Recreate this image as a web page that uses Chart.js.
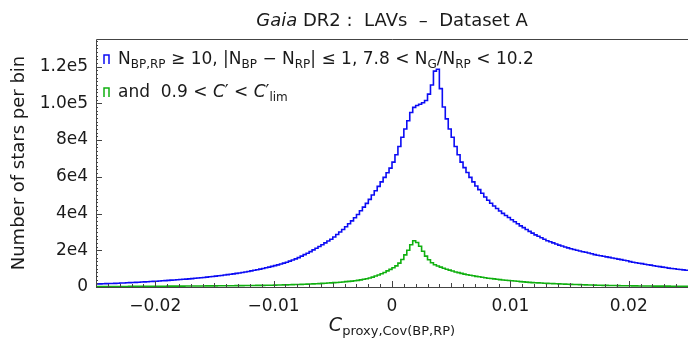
<!DOCTYPE html>
<html>
<head>
<meta charset="utf-8">
<script src="https://cdn.jsdelivr.net/npm/chart.js@4.4.1/dist/chart.umd.min.js"></script>
<style>
  html, body { margin: 0; padding: 0; background: #fff; }
  #wrap { width: 688px; height: 345px; }
</style>
</head>
<body>
<div id="wrap"><canvas id="c" width="688" height="345"></canvas></div>
<script>
// ---- data ----
const binStart = -0.025;
const binWidth = 0.00025;

const blueCounts = [
  1630,1690,1750,1810,1880,1940,2000,2070,2140,2210,2290,2360,2440,2530,2620,2710,2790,2880,2970,3060,
  3160,3270,3380,3490,3610,3720,3830,3940,4060,4190,4310,4440,4580,4730,4880,5030,5190,5360,5540,5710,
  5900,6100,6300,6500,6710,6930,7160,7390,7640,7910,8190,8460,8760,9090,9410,9740,10090,10460,10840,11210,
  11620,12070,12520,12970,13500,14100,14700,15300,16000,16800,17600,18400,19260,20190,21110,22040,23000,24000,25000,26000,
  27200,28600,29900,31300,32800,34400,36000,37700,39500,41500,43500,45500,47700,50100,52400,54800,57200,59700,62200,64700,
  68000,72000,76500,81500,86000,90500,95000,97800,98800,99500,100300,101500,105000,110000,117500,118500,108000,98000,91500,86000,
  81500,76500,72000,68000,65000,62300,59700,57200,55000,53000,51000,49000,47200,45600,44100,42700,41400,40100,38900,37800,
  36600,35500,34400,33300,32300,31300,30300,29300,28400,27600,26800,26000,25200,24600,24000,23400,22800,22300,21800,21300,
  20800,20400,20000,19600,19200,18900,18500,18100,17600,17300,17000,16700,16400,16100,15800,15500,15200,14900,14600,14300,
  13800,13500,13200,12900,12700,12400,12100,11900,11600,11300,11100,10800,10600,10300,10100,9900,9700,9500,9300,9100
];

const greenCounts = [
  250,255,260,265,270,275,280,285,290,300,310,315,320,330,340,350,360,370,380,390,
  410,420,430,440,450,460,470,480,490,500,510,520,530,545,555,565,580,590,600,615,
  630,645,660,675,690,705,720,740,760,775,795,810,830,850,870,890,910,935,960,985,
  1020,1060,1100,1140,1180,1230,1280,1330,1390,1450,1510,1570,1640,1710,1790,1860,1950,2050,2150,2250,
  2360,2480,2610,2750,2900,3050,3220,3400,3620,3900,4200,4500,4900,5400,5950,6500,7200,7900,8800,9600,
  10500,11500,13000,15000,17500,20000,23000,25200,24200,22200,19500,16800,14800,13200,12100,11400,10800,10200,9700,9200,
  8700,8200,7800,7400,7000,6700,6400,6100,5800,5550,5300,5050,4800,4600,4400,4200,4000,3850,3700,3550,
  3400,3250,3100,2950,2800,2650,2520,2400,2300,2220,2140,2060,1980,1900,1830,1760,1690,1630,1570,1510,
  1450,1390,1330,1270,1220,1170,1120,1070,1020,980,940,900,870,840,810,780,750,720,690,660,
  640,620,600,580,560,545,530,515,500,490,480,470,460,450,440,435,425,420,415,410
];

const xTickValues = [-0.02, -0.01, 0, 0.01, 0.02];
const xTickLabels = ['\u22120.02', '\u22120.01', '0', '0.01', '0.02'];
const yTickValues = [0, 20000, 40000, 60000, 80000, 100000, 120000];
const yTickLabels = ['0', '2e4', '4e4', '6e4', '8e4', '1.0e5', '1.2e5'];

const xMin = -0.025, xMax = 0.025, yMin = 0, yMax = 135000;

// ---- build step points (left bin edges + closing right edge) ----
function toSteps(counts) {
  const pts = counts.map((c, i) => ({ x: binStart + i * binWidth, y: c }));
  pts.push({ x: binStart + counts.length * binWidth, y: counts[counts.length - 1] });
  return pts;
}

const FONT = "'DejaVu Sans', sans-serif";
const TXT = '#1a1a1a';

function drawRich(ctx, segs, cx, baseY, align) {
  let total = 0;
  segs.forEach(s => {
    ctx.font = (s.it ? 'italic ' : '') + s.size + 'px ' + FONT;
    s.w = ctx.measureText(s.t).width;
    total += s.w;
  });
  let x = align === 'left' ? cx : cx - total / 2;
  ctx.textAlign = 'left';
  ctx.textBaseline = 'alphabetic';
  segs.forEach(s => {
    ctx.font = (s.it ? 'italic ' : '') + s.size + 'px ' + FONT;
    ctx.fillText(s.t, x, baseY + (s.dy || 0));
    x += s.w;
  });
}

const decor = {
  id: 'decor',
  afterDraw(chart) {
    const ctx = chart.ctx;
    const a = chart.chartArea;
    const xs = chart.scales.x, ys = chart.scales.y;
    ctx.save();
    // frame
    ctx.strokeStyle = '#444';
    ctx.lineWidth = 1;
    ctx.beginPath();
    ctx.moveTo(a.left + 0.5, a.bottom + 0.5);
    ctx.lineTo(a.left + 0.5, a.top + 0.5);
    ctx.lineTo(a.right, a.top + 0.5);
    ctx.moveTo(a.left, a.bottom + 0.5);
    ctx.lineTo(a.right, a.bottom + 0.5);
    ctx.stroke();
    // x ticks (inward)
    ctx.beginPath();
    for (let k = -25; k <= 25; k++) {
      const px = Math.round(xs.getPixelForValue(k / 1000)) + 0.5;
      const len = (k % 10 === 0) ? 6 : (k % 5 === 0 ? 4 : 3);
      ctx.moveTo(px, a.bottom);
      ctx.lineTo(px, a.bottom - len);
    }
    // y ticks (inward)
    for (let v = 0; v <= yMax; v += 2000) {
      const py = Math.round(ys.getPixelForValue(v)) + 0.5;
      const len = (v % 20000 === 0) ? 6 : 2;
      ctx.moveTo(a.left, py);
      ctx.lineTo(a.left + len, py);
    }
    ctx.stroke();

    ctx.fillStyle = TXT;
    // title
    drawRich(ctx, [
      { t: 'Gaia', it: true, size: 18 },
      { t: ' DR2 :  LAVs  \u2013  Dataset A', size: 18 }
    ], (a.left + a.right) / 2, 26);

    // x axis title
    drawRich(ctx, [
      { t: 'C', it: true, size: 19 },
      { t: 'proxy,Cov(BP,RP)', size: 13, dy: 4 }
    ], (a.left + a.right) / 2, 331);

    // y axis title
    ctx.save();
    ctx.translate(24, (a.top + a.bottom) / 2);
    ctx.rotate(-Math.PI / 2);
    ctx.font = '18px ' + FONT;
    ctx.textAlign = 'center';
    ctx.textBaseline = 'alphabetic';
    ctx.fillText('Number of stars per bin', 0, 0);
    ctx.restore();

    // legend
    const legendItems = [
      { color: chart.data.datasets[0].borderColor, y: 64, segs: [
        { t: 'N', size: 17 }, { t: 'BP,RP', size: 12, dy: 4 },
        { t: ' \u2265 10, |N', size: 17 }, { t: 'BP', size: 12, dy: 4 },
        { t: ' \u2212 N', size: 17 }, { t: 'RP', size: 12, dy: 4 },
        { t: '| \u2264 1, 7.8 < N', size: 17 }, { t: 'G', size: 12, dy: 4 },
        { t: '/N', size: 17 }, { t: 'RP', size: 12, dy: 4 },
        { t: ' < 10.2', size: 17 }
      ]},
      { color: chart.data.datasets[1].borderColor, y: 97, segs: [
        { t: 'and  0.9 < ', size: 17 }, { t: 'C', it: true, size: 17 },
        { t: '\u2032 < ', size: 17 }, { t: 'C', it: true, size: 17 },
        { t: '\u2032', size: 17 }, { t: 'lim', size: 12, dy: 4 }
      ]}
    ];
    legendItems.forEach(it => {
      ctx.strokeStyle = it.color;
      ctx.lineWidth = 1.5;
      ctx.beginPath();
      ctx.moveTo(104, it.y);
      ctx.lineTo(104, it.y - 9);
      ctx.lineTo(109, it.y - 9);
      ctx.lineTo(109, it.y);
      ctx.stroke();
      ctx.fillStyle = TXT;
      drawRich(ctx, it.segs, 118, it.y, 'left');
    });
    ctx.restore();
  }
};

Chart.defaults.font.family = FONT;
Chart.defaults.font.size = 17;
Chart.defaults.color = TXT;

new Chart(document.getElementById('c'), {
  type: 'line',
  data: {
    datasets: [
      { label: 'blue', data: toSteps(blueCounts), borderColor: '#0c0cf4', borderWidth: 1.6,
        stepped: 'before', pointRadius: 0, fill: false, order: 2 },
      { label: 'green', data: toSteps(greenCounts), borderColor: '#10b010', borderWidth: 1.6,
        stepped: 'before', pointRadius: 0, fill: false, order: 1 }
    ]
  },
  options: {
    responsive: false,
    animation: false,
    devicePixelRatio: 1,
    layout: { padding: { top: 39, right: 0, left: 0, bottom: 0 } },
    plugins: { legend: { display: false }, title: { display: false }, tooltip: { enabled: false } },
    scales: {
      x: {
        type: 'linear', min: xMin, max: xMax,
        grid: { display: false, drawTicks: false },
        border: { display: false },
        afterBuildTicks: s => { s.ticks = xTickValues.map(v => ({ value: v })); },
        afterFit: s => { s.height = 58; },
        ticks: {
          padding: 9,
          maxRotation: 0, autoSkip: false,
          font: { size: 17 },
          callback: (v) => { const i = xTickValues.findIndex(t => Math.abs(t - v) < 1e-9); return i >= 0 ? xTickLabels[i] : ''; }
        }
      },
      y: {
        type: 'linear', min: yMin, max: yMax,
        grid: { display: false, drawTicks: false },
        border: { display: false },
        afterBuildTicks: s => { s.ticks = yTickValues.map(v => ({ value: v })); },
        afterFit: s => { s.width = 96; },
        ticks: {
          padding: 8,
          font: { size: 17 },
          callback: (v) => { const i = yTickValues.indexOf(v); return i >= 0 ? yTickLabels[i] : ''; }
        }
      }
    }
  },
  plugins: [decor]
});
</script>
</body>
</html>
